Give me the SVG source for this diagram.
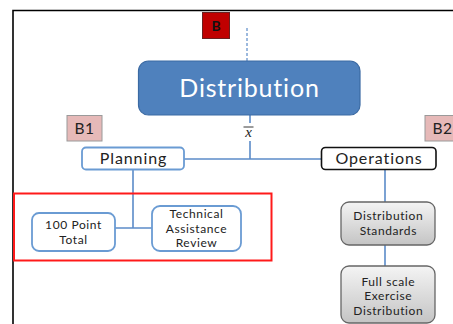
<svg xmlns="http://www.w3.org/2000/svg" width="453" height="324" viewBox="0 0 453 324">
  <defs>
    <linearGradient id="grayFill" x1="0" y1="0" x2="0" y2="1">
      <stop offset="0" stop-color="#f4f4f4"/>
      <stop offset="1" stop-color="#c4c4c4"/>
    </linearGradient>
    <style>
      text { font-family: Lato, "Open Sans", "Liberation Sans", sans-serif; text-anchor: middle; fill: #222; }
      .conn { stroke: #5b8bc8; stroke-width: 1.6; fill: none; }
      .blueBox { fill: #ffffff; stroke: #6a9bd3; stroke-width: 1.8; }
      .grayBox { fill: url(#grayFill); stroke: #666666; stroke-width: 1.3; }
      .tag { fill: #e6b9b8; stroke: #9a9a9a; stroke-width: 1; }
      .small { font-size: 12px; letter-spacing: 0.6px; }
      .mid { font-size: 16px; letter-spacing: 0.9px; }
    </style>
  </defs>

  <!-- page frame -->
  <path d="M13,324 V10.5 H453" fill="none" stroke="#000" stroke-width="1.6"/>

  <!-- connectors -->
  <g id="connectors">
    <line x1="247" y1="28" x2="247" y2="61" stroke="#5b8bc8" stroke-width="1.2" stroke-dasharray="3,2"/>
    <line class="conn" x1="250" y1="115" x2="250" y2="123"/>
    <line class="conn" x1="250" y1="141" x2="250" y2="159"/>
    <line class="conn" x1="184" y1="159" x2="321" y2="159"/>
    <line class="conn" x1="133" y1="169" x2="133" y2="228"/>
    <line class="conn" x1="115" y1="228" x2="152" y2="228"/>
    <line class="conn" x1="385" y1="170" x2="385" y2="202"/>
    <line class="conn" x1="385" y1="245" x2="385" y2="266"/>
  </g>

  <!-- x-bar label -->
  <g id="xbar">
    <text x="248.5" y="137" style="font-family: 'Liberation Serif', serif; font-style: italic; font-size: 15px;">x</text>
    <line x1="243.5" y1="127" x2="253.5" y2="127" stroke="#222" stroke-width="0.9"/>
  </g>

  <!-- tags -->
  <g id="tag-B">
    <rect x="202.5" y="12.5" width="27" height="26" fill="#c00000" stroke="#6b2020" stroke-width="1"/>
    <text x="216" y="31" style="font-size: 14px; font-weight: bold; fill: #111;">B</text>
  </g>
  <g id="tag-B1">
    <rect class="tag" x="67" y="115.5" width="35" height="25.5"/>
    <text x="84.5" y="133.5" style="font-size: 15.5px; letter-spacing: 0.5px;">B1</text>
  </g>
  <g id="tag-B2">
    <rect class="tag" x="425" y="115.5" width="35" height="25.5"/>
    <text x="442.5" y="133.5" style="font-size: 15.5px; letter-spacing: 0.5px;">B2</text>
  </g>

  <!-- root node -->
  <g id="distribution">
    <rect x="138.5" y="61" width="221.5" height="54" rx="10" fill="#4f81bd" stroke="#3b6aa3" stroke-width="1.2"/>
    <text x="249.5" y="97" style="font-size: 25px; letter-spacing: 0.8px; fill: #ffffff;">Distribution</text>
  </g>

  <!-- second level -->
  <g id="planning">
    <rect class="blueBox" x="82" y="147.5" width="102" height="22" rx="4"/>
    <text class="mid" x="133.5" y="164">Planning</text>
  </g>
  <g id="operations">
    <rect x="321.5" y="147.5" width="114.5" height="22" rx="4" fill="#fff" stroke="#111" stroke-width="1.6"/>
    <text class="mid" x="379" y="164">Operations</text>
  </g>

  <!-- highlight frame round planning children -->
  <rect x="14" y="193.5" width="257.5" height="67" fill="none" stroke="#ff1a1a" stroke-width="2"/>

  <!-- planning children -->
  <g id="point-total">
    <rect class="blueBox" x="32" y="213" width="83" height="38" rx="7"/>
    <text class="small" x="73.5" y="229">100 Point</text>
    <text class="small" x="73.5" y="244">Total</text>
  </g>
  <g id="technical-review">
    <rect class="blueBox" x="152" y="206" width="89" height="45" rx="8"/>
    <text class="small" x="196.5" y="218">Technical</text>
    <text class="small" x="196.5" y="232.5">Assistance</text>
    <text class="small" x="196.5" y="247">Review</text>
  </g>

  <!-- operations children -->
  <g id="distribution-standards">
    <rect class="grayBox" x="341" y="202" width="94" height="43" rx="8"/>
    <text class="small" x="388.3" y="220">Distribution</text>
    <text class="small" x="388.3" y="235">Standards</text>
  </g>
  <g id="full-scale">
    <rect class="grayBox" x="341" y="266" width="94" height="57" rx="8"/>
    <text class="small" x="388.3" y="285.5">Full scale</text>
    <text class="small" x="388.3" y="300">Exercise</text>
    <text class="small" x="388.3" y="314.5">Distribution</text>
  </g>
</svg>
